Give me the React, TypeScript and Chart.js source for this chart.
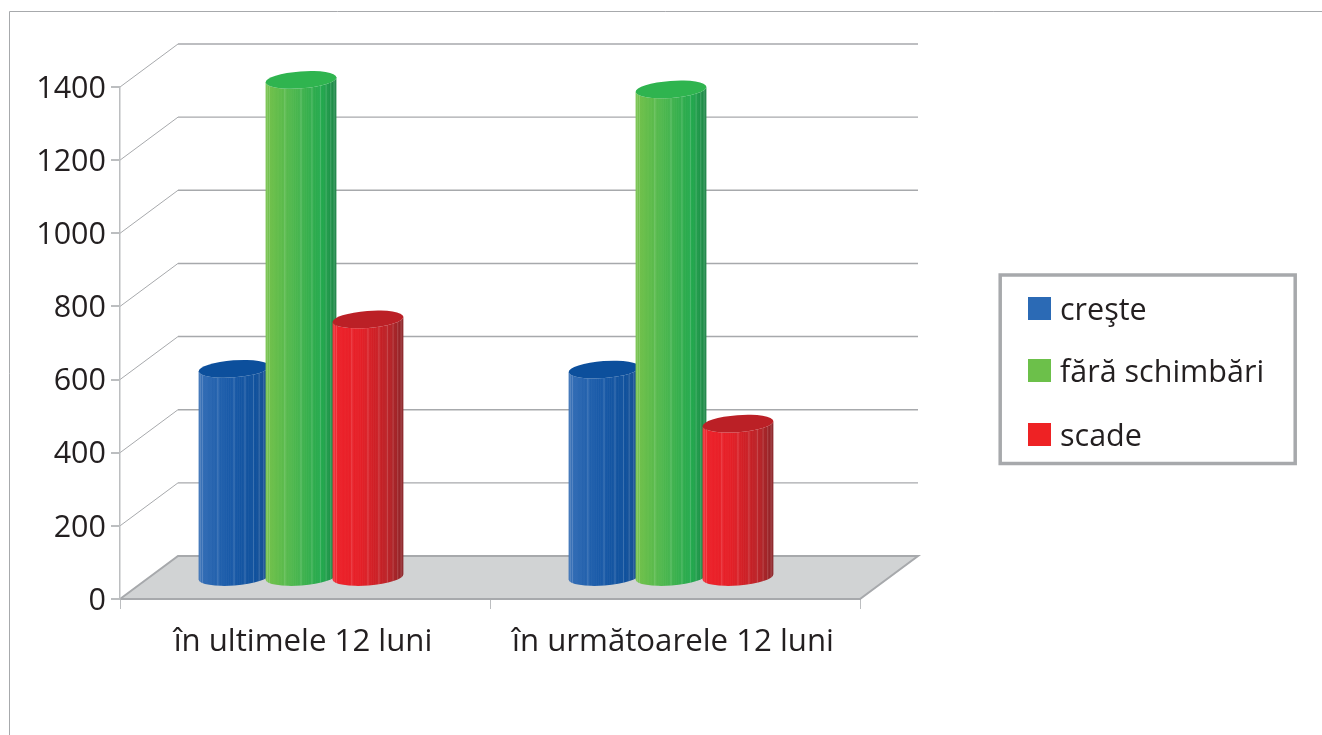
import React, { useEffect, useRef } from "react";
import { Chart, registerables } from "chart.js";

Chart.register(...registerables);

const categories = ["în ultimele 12 luni", "în următoarele 12 luni"];
const cresteValues = [572, 570];
const faraValues = [1362, 1336];
const scadeValues = [707, 422];
const seriesNames = ["creşte", "fără schimbări", "scade"];
const legendColors = ["#2b6ab5", "#6cc04a", "#ee2224"];
const topColors = ["#0c4f9c", "#2fb44f", "#bb2026"];
const bodyStops = [
  ["#2f6ab4", "#1b5caa", "#0d4f9c", "#144a8c"],
  ["#70c044", "#4fb84e", "#20a84c", "#14803f"],
  ["#ee1c25", "#e61f27", "#b82025", "#861a1e"],
];

const FONT = '"Open Sans", "Noto Sans", sans-serif';
const TEXT = "#231f20";
const GREY = "#a7a9ac";
const DEPTH_X = 58;
const DEPTH_Y = -43;
const BAR_DX = -4;
const BAR_DY = -21;
const RY = 8.5;
const TILT = -0.075;
const strongSeams = [6, 9, 21, 30, 36, 41, 45, 49, 53];

const wallPlugin = {
  id: "wall",
  beforeDraw(chart: any) {
    const { ctx, scales, chartArea } = chart;
    const { left, right, bottom } = chartArea;
    ctx.save();
    ctx.strokeStyle = GREY;
    ctx.lineWidth = 1;
    ctx.beginPath();
    ctx.moveTo(1322, 11.5);
    ctx.lineTo(9.5, 11.5);
    ctx.lineTo(9.5, 735);
    ctx.stroke();

    scales.y.ticks.forEach((t: any) => {
      const y = scales.y.getPixelForValue(t.value);
      if (t.value > 0) {
        ctx.strokeStyle = GREY;
        ctx.lineWidth = 1;
        ctx.beginPath();
        ctx.moveTo(left, y);
        ctx.lineTo(left + DEPTH_X, y + DEPTH_Y);
        ctx.stroke();
        ctx.lineWidth = 1.4;
        ctx.beginPath();
        ctx.moveTo(left + DEPTH_X, y + DEPTH_Y);
        ctx.lineTo(right + DEPTH_X, y + DEPTH_Y);
        ctx.stroke();
      }
    });

    ctx.beginPath();
    ctx.moveTo(left, bottom);
    ctx.lineTo(left + DEPTH_X, bottom + DEPTH_Y);
    ctx.lineTo(right + DEPTH_X, bottom + DEPTH_Y);
    ctx.lineTo(right, bottom);
    ctx.closePath();
    ctx.fillStyle = "#d1d3d4";
    ctx.fill();
    ctx.strokeStyle = GREY;
    ctx.lineWidth = 2;
    ctx.stroke();
    ctx.restore();
  },
};

const cylinderPlugin = {
  id: "cylinder",
  afterDatasetsDraw(chart: any) {
    const { ctx } = chart;
    chart.data.datasets.forEach((_: any, di: number) => {
      chart.getDatasetMeta(di).data.forEach((bar: any) => {
        const cx = bar.x + BAR_DX;
        const rx = bar.width / 2;
        const yTop = bar.y + BAR_DY;
        const yBase = bar.base + BAR_DY;
        const stops = bodyStops[di];
        const grad = ctx.createLinearGradient(cx - rx, 0, cx + rx, 0);
        grad.addColorStop(0, stops[0]);
        grad.addColorStop(0.38, stops[1]);
        grad.addColorStop(0.8, stops[2]);
        grad.addColorStop(1, stops[3]);
        ctx.save();
        ctx.beginPath();
        ctx.ellipse(cx, yTop, rx, RY, TILT, 0, Math.PI, false);
        ctx.ellipse(cx, yBase, rx, RY, TILT, Math.PI, 0, true);
        ctx.closePath();
        ctx.fillStyle = grad;
        ctx.fill();
        ctx.clip();
        const facets = 60;
        for (let i = 1; i < facets; i++) {
          const x = cx - rx * Math.cos((i / facets) * Math.PI);
          ctx.strokeStyle = strongSeams.includes(i)
            ? "rgba(255,255,255,0.22)"
            : "rgba(255,255,255,0.04)";
          ctx.lineWidth = 1;
          ctx.beginPath();
          ctx.moveTo(x, yTop - 20);
          ctx.lineTo(x, yBase + 20);
          ctx.stroke();
        }
        ctx.restore();
        ctx.beginPath();
        ctx.ellipse(cx, yTop, rx, RY, TILT, 0, Math.PI * 2);
        ctx.fillStyle = topColors[di];
        ctx.fill();
      });
    });
  },
};

const legendPlugin = {
  id: "sideLegend",
  afterDraw(chart: any) {
    const { ctx } = chart;
    ctx.save();
    ctx.strokeStyle = GREY;
    ctx.lineWidth = 3.5;
    ctx.strokeRect(1000.2, 275, 295, 188.5);
    const tops = [297, 359, 423];
    ctx.font = `30.5px ${FONT}`;
    ctx.textBaseline = "alphabetic";
    ctx.textAlign = "left";
    chart.data.datasets.forEach((d: any, i: number) => {
      ctx.fillStyle = legendColors[i];
      ctx.fillRect(1028, tops[i], 23, 23);
      ctx.fillStyle = TEXT;
      ctx.fillText(d.label, 1060, tops[i] + 23);
    });
    ctx.restore();
  },
};

export default function App() {
  const ref = useRef<HTMLCanvasElement | null>(null);
  useEffect(() => {
    const values = [cresteValues, faraValues, scadeValues];
    const chart = new Chart(ref.current as HTMLCanvasElement, {
      type: "bar",
      data: {
        labels: categories,
        datasets: seriesNames.map((label, i) => ({
          label,
          data: values[i],
          backgroundColor: "rgba(0,0,0,0)",
          borderWidth: 0,
          categoryPercentage: 0.543,
          barPercentage: 1.06,
        })),
      },
      options: {
        responsive: false,
        animation: false,
        layout: { padding: { top: 87, right: 462, left: 0, bottom: 0 } },
        plugins: { legend: { display: false }, tooltip: { enabled: false }, title: { display: false } },
        scales: {
          x: {
            grid: { drawOnChartArea: false, drawTicks: true, tickLength: 10, color: "#bcbec0", lineWidth: 1 },
            border: { display: true, color: GREY, width: 2 },
            ticks: { color: TEXT, font: { family: FONT, size: 31.2 }, padding: 14, maxRotation: 0, autoSkip: false, labelOffset: -2 },
            afterFit: (s: any) => { s.height = 136; },
          },
          y: {
            min: 0,
            max: 1400,
            grid: { drawOnChartArea: false, drawTicks: true, tickLength: 9, color: "#bcbec0", lineWidth: 2 },
            border: { display: true, color: "#bcbec0", width: 1.5 },
            ticks: {
              stepSize: 200,
              color: TEXT,
              font: { family: FONT, size: 30.5 },
              padding: 5,
              labelOffset: 2,
              callback: (v: any) => String(v),
            },
            afterFit: (s: any) => { s.width = 120; },
          },
        },
      },
      plugins: [wallPlugin, cylinderPlugin, legendPlugin],
    } as any);
    return () => chart.destroy();
  }, []);
  return (
    <div style={{ position: "absolute", left: 0, top: 0, width: 1322, height: 735, overflow: "hidden" }}>
      <canvas ref={ref} width={1322} height={735} style={{ display: "block" }} />
    </div>
  );
}
